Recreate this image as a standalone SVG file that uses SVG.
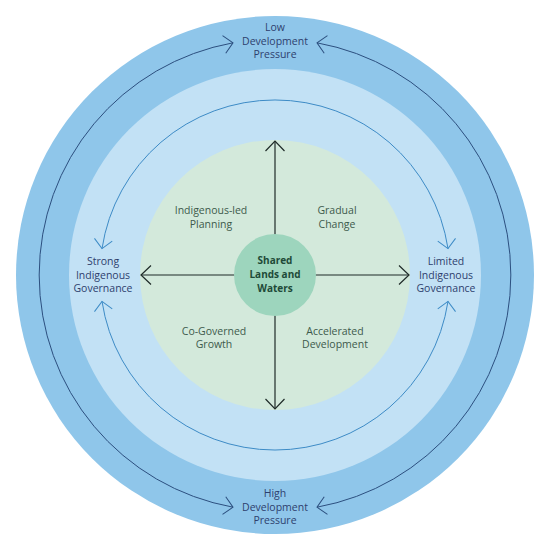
<svg xmlns="http://www.w3.org/2000/svg" width="549" height="549" viewBox="0 0 549 549">
<style>
text{font-family:"Open Sans","Noto Sans","Liberation Sans",sans-serif;font-size:10.5px;text-anchor:middle}
.outer{fill:#2e3f6e}
.quad{fill:#3d5a4c}
.center{fill:#1e4a38;font-weight:bold;font-size:10px}
.cross{stroke:#1f2b28;stroke-width:1.2;fill:none}
.oarc{stroke:#2c4f7f;stroke-width:1;fill:none}
.iarc{stroke:#3d8bc6;stroke-width:1;fill:none}
</style>
<defs>
<marker id="mCross" markerUnits="userSpaceOnUse" viewBox="-12 -12 24 24" refX="0" refY="0" markerWidth="24" markerHeight="24" orient="auto-start-reverse">
<path d="M-10,-9.5 L0,0 L-10,9.5" fill="none" stroke="#1f2b28" stroke-width="1.2"/>
</marker>
<marker id="mOuter" markerUnits="userSpaceOnUse" viewBox="-12 -12 24 24" refX="0" refY="0" markerWidth="24" markerHeight="24" orient="auto-start-reverse">
<path d="M-9,-9 L0,0 L-9,9" fill="none" stroke="#2c4f7f" stroke-width="1"/>
</marker>
<marker id="mInner" markerUnits="userSpaceOnUse" viewBox="-12 -12 24 24" refX="0" refY="0" markerWidth="24" markerHeight="24" orient="auto-start-reverse">
<path d="M-9,-9 L0,0 L-9,9" fill="none" stroke="#3d8bc6" stroke-width="1"/>
</marker>
</defs>
<g id="rings">
<circle id="ring-outer" cx="275" cy="275" r="259" fill="#8fc6ea"/>
<circle id="ring-middle" cx="275" cy="275" r="206" fill="#c2e1f5"/>
<circle id="ring-green" cx="275" cy="275" r="135" fill="#d3e9db"/>
</g>
<g id="connectors">
<path class="oarc" d="M233,42.8 A236,236 0 0 0 233,507.2" marker-start="url(#mOuter)" marker-end="url(#mOuter)"/>
<path class="oarc" d="M317,42.8 A236,236 0 0 1 317,507.2" marker-start="url(#mOuter)" marker-end="url(#mOuter)"/>
<path class="iarc" d="M102,248.6 A175,175 0 0 1 448,248.6" marker-start="url(#mInner)" marker-end="url(#mInner)"/>
<path class="iarc" d="M102,301.4 A175,175 0 0 0 448,301.4" marker-start="url(#mInner)" marker-end="url(#mInner)"/>
<line class="cross" x1="275" y1="141" x2="275" y2="409" marker-start="url(#mCross)" marker-end="url(#mCross)"/>
<line class="cross" x1="141" y1="275" x2="409" y2="275" marker-start="url(#mCross)" marker-end="url(#mCross)"/>
</g>
<g id="center-node">
<circle cx="275" cy="275" r="41" fill="#9dd5bd"/>
<text class="center" x="275" y="264">Shared</text>
<text class="center" x="275" y="278">Lands and</text>
<text class="center" x="275" y="292">Waters</text>
</g>
<g id="label-low">
<text class="outer" x="275" y="31">Low</text>
<text class="outer" x="275" y="45">Development</text>
<text class="outer" x="275" y="58">Pressure</text>
</g>
<g id="label-high">
<text class="outer" x="275" y="497">High</text>
<text class="outer" x="275" y="511">Development</text>
<text class="outer" x="275" y="524">Pressure</text>
</g>
<g id="label-strong">
<text class="outer" x="103" y="265">Strong</text>
<text class="outer" x="103" y="279">Indigenous</text>
<text class="outer" x="103" y="292">Governance</text>
</g>
<g id="label-limited">
<text class="outer" x="446" y="265">Limited</text>
<text class="outer" x="446" y="279">Indigenous</text>
<text class="outer" x="446" y="292">Governance</text>
</g>
<g id="quad-nw">
<text class="quad" x="211" y="214">Indigenous-led</text>
<text class="quad" x="211" y="228">Planning</text>
</g>
<g id="quad-ne">
<text class="quad" x="337" y="214">Gradual</text>
<text class="quad" x="337" y="228">Change</text>
</g>
<g id="quad-sw">
<text class="quad" x="214" y="335">Co-Governed</text>
<text class="quad" x="214" y="348">Growth</text>
</g>
<g id="quad-se">
<text class="quad" x="335" y="335">Accelerated</text>
<text class="quad" x="335" y="348">Development</text>
</g>
</svg>
